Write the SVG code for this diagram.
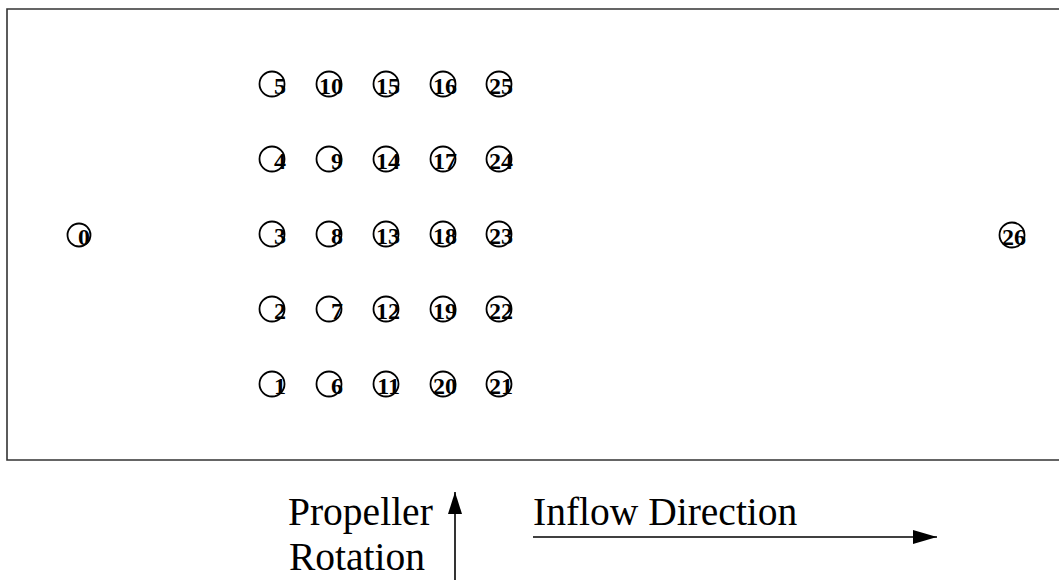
<svg xmlns="http://www.w3.org/2000/svg" width="1059" height="580" viewBox="0 0 1059 580">
  <defs>
    <marker id="head-up" viewBox="0 0 14 22" refX="7" refY="0" markerWidth="14" markerHeight="22" markerUnits="userSpaceOnUse" orient="0">
      <path d="M7 0 L14 22 L0 22 Z" fill="#000"/>
    </marker>
    <marker id="head-right" viewBox="0 0 24 14" refX="24" refY="7" markerWidth="24" markerHeight="14" markerUnits="userSpaceOnUse" orient="0">
      <path d="M0 0 L24 7 L0 14 Z" fill="#000"/>
    </marker>
  </defs>
  <style>
    .frame { fill: none; stroke: #333; stroke-width: 1.6; }
    .probe circle { fill: #fff; stroke: #000; stroke-width: 1.8; }
    .probe text { font-family: "Liberation Serif", "Times New Roman", serif; font-weight: bold; font-size: 24px; text-anchor: end; fill: #000; }
    .label { font-family: "Liberation Serif", "Times New Roman", serif; font-size: 39.5px; fill: #000; }
    .arrow { stroke: #000; stroke-width: 1.6; fill: none; }
  </style>
  <rect width="1059" height="580" fill="#fff"/>

  <!-- measurement domain boundary (open on the right) -->
  <path class="frame" d="M1060 9 H7 V460 H1060"/>

  <!-- inlet and outlet probes -->
  <g id="node0" class="probe"><circle cx="79" cy="235" r="11.5"/><text x="90" y="245">0</text></g>
  <g id="node26" class="probe"><circle cx="1012" cy="235" r="12.5"/><text x="1026" y="245">26</text></g>

  <!-- column 1 -->
  <g id="node5" class="probe"><circle cx="272" cy="84" r="12.5"/><text x="286" y="94">5</text></g>
  <g id="node4" class="probe"><circle cx="272" cy="159" r="12.5"/><text x="286" y="169">4</text></g>
  <g id="node3" class="probe"><circle cx="272" cy="234" r="12.5"/><text x="286" y="244">3</text></g>
  <g id="node2" class="probe"><circle cx="272" cy="309" r="12.5"/><text x="286" y="319">2</text></g>
  <g id="node1" class="probe"><circle cx="272" cy="384" r="12.5"/><text x="286" y="394">1</text></g>

  <!-- column 2 -->
  <g id="node10" class="probe"><circle cx="329" cy="84" r="12.5"/><text x="343" y="94">10</text></g>
  <g id="node9" class="probe"><circle cx="329" cy="159" r="12.5"/><text x="343" y="169">9</text></g>
  <g id="node8" class="probe"><circle cx="329" cy="234" r="12.5"/><text x="343" y="244">8</text></g>
  <g id="node7" class="probe"><circle cx="329" cy="309" r="12.5"/><text x="343" y="319">7</text></g>
  <g id="node6" class="probe"><circle cx="329" cy="384" r="12.5"/><text x="343" y="394">6</text></g>

  <!-- column 3 -->
  <g id="node15" class="probe"><circle cx="386" cy="84" r="12.5"/><text x="400" y="94">15</text></g>
  <g id="node14" class="probe"><circle cx="386" cy="159" r="12.5"/><text x="400" y="169">14</text></g>
  <g id="node13" class="probe"><circle cx="386" cy="234" r="12.5"/><text x="400" y="244">13</text></g>
  <g id="node12" class="probe"><circle cx="386" cy="309" r="12.5"/><text x="400" y="319">12</text></g>
  <g id="node11" class="probe"><circle cx="386" cy="384" r="12.5"/><text x="400" y="394">11</text></g>

  <!-- column 4 -->
  <g id="node16" class="probe"><circle cx="443" cy="84" r="12.5"/><text x="457" y="94">16</text></g>
  <g id="node17" class="probe"><circle cx="443" cy="159" r="12.5"/><text x="457" y="169">17</text></g>
  <g id="node18" class="probe"><circle cx="443" cy="234" r="12.5"/><text x="457" y="244">18</text></g>
  <g id="node19" class="probe"><circle cx="443" cy="309" r="12.5"/><text x="457" y="319">19</text></g>
  <g id="node20" class="probe"><circle cx="443" cy="384" r="12.5"/><text x="457" y="394">20</text></g>

  <!-- column 5 -->
  <g id="node25" class="probe"><circle cx="499" cy="84" r="12.5"/><text x="513" y="94">25</text></g>
  <g id="node24" class="probe"><circle cx="499" cy="159" r="12.5"/><text x="513" y="169">24</text></g>
  <g id="node23" class="probe"><circle cx="499" cy="234" r="12.5"/><text x="513" y="244">23</text></g>
  <g id="node22" class="probe"><circle cx="499" cy="309" r="12.5"/><text x="513" y="319">22</text></g>
  <g id="node21" class="probe"><circle cx="499" cy="384" r="12.5"/><text x="513" y="394">21</text></g>

  <!-- legend arrows -->
  <g id="connectors">
    <line class="arrow" x1="455" y1="580" x2="455" y2="492" marker-end="url(#head-up)"/>
    <line class="arrow" x1="533" y1="537" x2="937" y2="537" marker-end="url(#head-right)"/>
  </g>

  <g id="legend">
    <text class="label" x="288" y="525">Propeller</text>
    <text class="label" x="289" y="570">Rotation</text>
    <text class="label" x="533" y="525">Inflow Direction</text>
  </g>
</svg>
